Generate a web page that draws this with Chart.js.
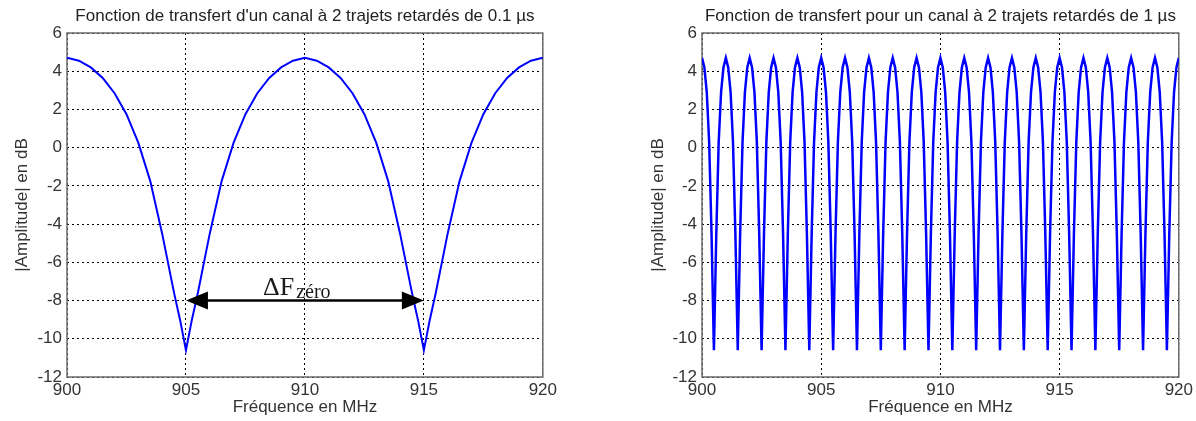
<!DOCTYPE html>
<html>
<head>
<meta charset="utf-8">
<script src="https://cdn.jsdelivr.net/npm/chart.js@4.4.1/dist/chart.umd.min.js"></script>
<style>
  body { margin: 0; background: #fff; }
  .wrap { position: absolute; top: 0; width: 560px; height: 421px; }
</style>
</head>
<body>
<div class="wrap" style="left:0"><canvas id="leftChart" width="560" height="421"></canvas></div>
<div class="wrap" style="left:636px"><canvas id="rightChart" width="560" height="421"></canvas></div>
<script>
// left plot: 2 paths delayed by 0.1 us
const freqLeft = [900, 900.5, 901, 901.5, 902, 902.5, 903, 903.5, 904, 904.5, 904.75, 905,
  905.25, 905.5, 906, 906.5, 907, 907.5, 908, 908.5, 909, 909.5, 910,
  910.5, 911, 911.5, 912, 912.5, 913, 913.5, 914, 914.5, 914.75, 915,
  915.25, 915.5, 916, 916.5, 917, 917.5, 918, 918.5, 919, 919.5, 920];
const ampLeft = [4.7, 4.55, 4.2, 3.65, 2.85, 1.75, 0.25, -1.75, -4.5, -7.6, -9.0, -10.6,
  -9.0, -7.6, -4.5, -1.75, 0.25, 1.75, 2.85, 3.65, 4.2, 4.55, 4.7,
  4.55, 4.2, 3.65, 2.85, 1.75, 0.25, -1.75, -4.5, -7.6, -9.0, -10.6,
  -9.0, -7.6, -4.5, -1.75, 0.25, 1.75, 2.85, 3.65, 4.2, 4.55, 4.7];

// right plot: 2 paths delayed by 1 us, sampled every 0.1 MHz from 900 MHz
const stepRight = 0.1;
const ampRight = [
  4.7, 4.2, 2.9, 0.3, -4.5, -10.6, -4.5, 0.3, 2.9, 4.2,
  4.7, 4.2, 2.9, 0.3, -4.5, -10.6, -4.5, 0.3, 2.9, 4.2,
  4.7, 4.2, 2.9, 0.3, -4.5, -10.6, -4.5, 0.3, 2.9, 4.2,
  4.7, 4.2, 2.9, 0.3, -4.5, -10.6, -4.5, 0.3, 2.9, 4.2,
  4.7, 4.2, 2.9, 0.3, -4.5, -10.6, -4.5, 0.3, 2.9, 4.2,
  4.7, 4.2, 2.9, 0.3, -4.5, -10.6, -4.5, 0.3, 2.9, 4.2,
  4.7, 4.2, 2.9, 0.3, -4.5, -10.6, -4.5, 0.3, 2.9, 4.2,
  4.7, 4.2, 2.9, 0.3, -4.5, -10.6, -4.5, 0.3, 2.9, 4.2,
  4.7, 4.2, 2.9, 0.3, -4.5, -10.6, -4.5, 0.3, 2.9, 4.2,
  4.7, 4.2, 2.9, 0.3, -4.5, -10.6, -4.5, 0.3, 2.9, 4.2,
  4.7, 4.2, 2.9, 0.3, -4.5, -10.6, -4.5, 0.3, 2.9, 4.2,
  4.7, 4.2, 2.9, 0.3, -4.5, -10.6, -4.5, 0.3, 2.9, 4.2,
  4.7, 4.2, 2.9, 0.3, -4.5, -10.6, -4.5, 0.3, 2.9, 4.2,
  4.7, 4.2, 2.9, 0.3, -4.5, -10.6, -4.5, 0.3, 2.9, 4.2,
  4.7, 4.2, 2.9, 0.3, -4.5, -10.6, -4.5, 0.3, 2.9, 4.2,
  4.7, 4.2, 2.9, 0.3, -4.5, -10.6, -4.5, 0.3, 2.9, 4.2,
  4.7, 4.2, 2.9, 0.3, -4.5, -10.6, -4.5, 0.3, 2.9, 4.2,
  4.7, 4.2, 2.9, 0.3, -4.5, -10.6, -4.5, 0.3, 2.9, 4.2,
  4.7, 4.2, 2.9, 0.3, -4.5, -10.6, -4.5, 0.3, 2.9, 4.2,
  4.7, 4.2, 2.9, 0.3, -4.5, -10.6, -4.5, 0.3, 2.9, 4.2,
  4.7];
const freqRight = ampRight.map((v, i) => 900 + i * stepRight);

const xTicks = [900, 905, 910, 915, 920];
const yTicks = [-12, -10, -8, -6, -4, -2, 0, 2, 4, 6];
const titleLeft = "Fonction de transfert d'un canal à 2 trajets retardés de 0.1 µs";
const titleRight = 'Fonction de transfert pour un canal à 2 trajets retardés de 1 µs';
const xLabel = 'Fréquence en MHz';
const yLabel = '|Amplitude| en dB';

const FONT = '"Liberation Sans", Arial, sans-serif';
const SERIF = '"Liberation Serif", "Times New Roman", serif';

// title over the plot area + grey frame around it
const framePlugin = {
  id: 'frame',
  beforeDatasetsDraw(chart) {
    const { ctx, chartArea: a } = chart;
    ctx.save();
    ctx.strokeStyle = '#6b6b6b';
    ctx.lineWidth = 1.5;
    ctx.strokeRect(a.left, a.top, a.right - a.left, a.bottom - a.top);
    ctx.restore();
  },
  afterDraw(chart, args, opts) {
    const { ctx, chartArea: a } = chart;
    ctx.save();
    ctx.fillStyle = '#222';
    ctx.font = '17px ' + FONT;
    ctx.textAlign = 'center';
    ctx.textBaseline = 'middle';
    ctx.fillText(opts.text, (a.left + a.right) / 2, 16);
    ctx.restore();
  }
};

// double arrow with "ΔF zéro" between the two nulls
const arrowPlugin = {
  id: 'deltaF',
  afterDatasetsDraw(chart) {
    const { ctx, scales: { x, y } } = chart;
    const yy = y.getPixelForValue(-8);
    const x1 = x.getPixelForValue(905);
    const x2 = x.getPixelForValue(915);
    const len = 22, half = 9;
    ctx.save();
    ctx.strokeStyle = '#000';
    ctx.fillStyle = '#000';
    ctx.lineWidth = 2.5;
    ctx.beginPath();
    ctx.moveTo(x1 + len - 2, yy);
    ctx.lineTo(x2 - len + 2, yy);
    ctx.stroke();
    ctx.beginPath();
    ctx.moveTo(x1, yy);
    ctx.lineTo(x1 + len, yy - half);
    ctx.lineTo(x1 + len, yy + half);
    ctx.closePath();
    ctx.fill();
    ctx.beginPath();
    ctx.moveTo(x2, yy);
    ctx.lineTo(x2 - len, yy - half);
    ctx.lineTo(x2 - len, yy + half);
    ctx.closePath();
    ctx.fill();
    ctx.fillStyle = '#1a1a1a';
    ctx.textBaseline = 'alphabetic';
    ctx.textAlign = 'left';
    ctx.font = '26px ' + SERIF;
    ctx.fillText('ΔF', 263, 295);
    const w = ctx.measureText('ΔF').width;
    ctx.font = '20px ' + SERIF;
    ctx.fillText('zéro', 263 + w + 2, 298);
    ctx.restore();
  }
};

function makeChart(id, xs, ys, title, yWidth, padRight, lineW, extra) {
  const ctx = document.getElementById(id).getContext('2d');
  return new Chart(ctx, {
    type: 'line',
    data: {
      datasets: [{
        data: xs.map((f, i) => ({ x: f, y: ys[i] })),
        borderColor: '#0000ff',
        borderWidth: lineW,
        pointRadius: 0,
        tension: 0,
        fill: false
      }]
    },
    options: {
      responsive: false,
      animation: false,
      layout: { padding: { top: 33, right: padRight, left: 0, bottom: 0 } },
      plugins: {
        legend: { display: false },
        tooltip: { enabled: false },
        frame: { text: title }
      },
      scales: {
        x: {
          type: 'linear',
          min: 900,
          max: 920,
          afterBuildTicks: s => { s.ticks = xTicks.map(v => ({ value: v })); },
          afterFit: s => { s.height = 44; },
          grid: { color: '#000', lineWidth: 1, drawTicks: false },
          border: { display: false, dash: [2, 3] },
          ticks: { color: '#333', font: { family: FONT, size: 17 }, padding: 3, maxRotation: 0 },
          title: { display: true, text: xLabel, color: '#333', font: { family: FONT, size: 17 }, padding: { top: 0, bottom: 3 } }
        },
        y: {
          min: -12,
          max: 6,
          afterBuildTicks: s => { s.ticks = yTicks.map(v => ({ value: v })); },
          afterFit: s => { s.width = yWidth; },
          grid: { color: '#000', lineWidth: 1, drawTicks: false },
          border: { display: false, dash: [2, 3] },
          ticks: { color: '#333', font: { family: FONT, size: 17 }, padding: 5 },
          title: { display: true, text: yLabel, color: '#333', font: { family: FONT, size: 17 }, padding: { top: 12, bottom: 0 } }
        }
      }
    },
    plugins: [framePlugin].concat(extra)
  });
}

makeChart('leftChart', freqLeft, ampLeft, titleLeft, 67, 16, 2, [arrowPlugin]);
makeChart('rightChart', freqRight, ampRight, titleRight, 66, 17, 2.5, []);
</script>
</body>
</html>
